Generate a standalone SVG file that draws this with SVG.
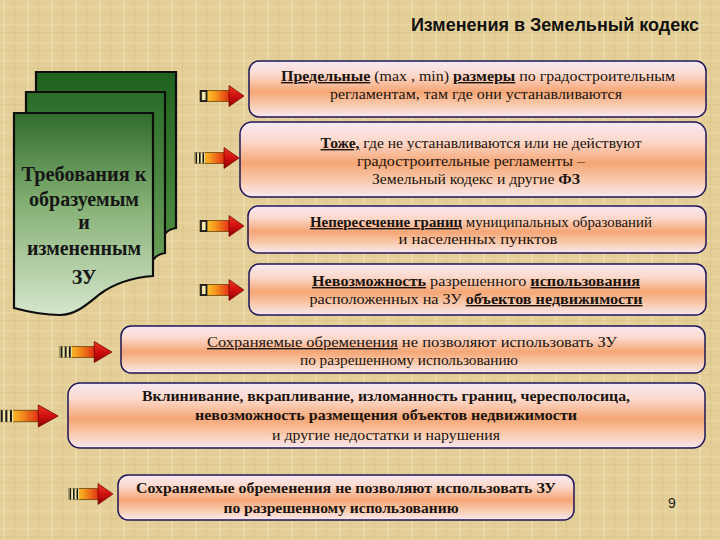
<svg xmlns="http://www.w3.org/2000/svg" width="720" height="540" viewBox="0 0 720 540">
<defs>
<style>
.bx{stroke:#1e1658;stroke-width:1.5;fill:url(#bg)}
.t{font-size:14px;fill:#1a1410;text-anchor:middle}
.b{font-weight:bold}
.u{text-decoration:underline}
.pg{stroke:#0d0d0d;stroke-width:2.2}
.ft{font-size:20px;font-weight:bold;fill:#161616;text-anchor:middle}
</style>
<pattern id="tex" width="24" height="18" patternUnits="userSpaceOnUse">
<rect width="24" height="18" fill="#e3cf97"/>
<rect x="3" y="0" width="2" height="18" fill="#efe0b0" opacity="0.6"/>
<rect x="14" y="0" width="1" height="18" fill="#d4bd80" opacity="0.6"/>
<rect x="0" y="6" width="24" height="1.5" fill="#eddcab" opacity="0.6"/>
<rect x="0" y="14" width="24" height="1" fill="#d6c084" opacity="0.5"/>
</pattern>
<linearGradient id="bg" x1="0" y1="0" x2="0" y2="1">
<stop offset="0" stop-color="#f7e9f2"/>
<stop offset="0.25" stop-color="#fbd9cc"/>
<stop offset="0.55" stop-color="#f5a675"/>
<stop offset="0.8" stop-color="#f9cdb2"/>
<stop offset="1" stop-color="#f8e8f0"/>
</linearGradient>
<linearGradient id="ag" x1="0" y1="0" x2="1" y2="0">
<stop offset="0" stop-color="#f8e040"/>
<stop offset="0.45" stop-color="#f5a020"/>
<stop offset="1" stop-color="#e02410"/>
</linearGradient>
<linearGradient id="ah" x1="0" y1="0" x2="0" y2="1">
<stop offset="0" stop-color="#e83a20"/>
<stop offset="0.5" stop-color="#d01010"/>
<stop offset="1" stop-color="#900000"/>
</linearGradient>
<linearGradient id="g1" x1="0" y1="0" x2="0" y2="1">
<stop offset="0" stop-color="#1f621f"/>
<stop offset="1" stop-color="#4c8a3e"/>
</linearGradient>
<linearGradient id="g2" x1="0" y1="0" x2="0" y2="1">
<stop offset="0" stop-color="#2a6d28"/>
<stop offset="1" stop-color="#6a9e58"/>
</linearGradient>
<linearGradient id="g3" x1="0" y1="0" x2="0" y2="1">
<stop offset="0" stop-color="#2f6c2c"/>
<stop offset="0.45" stop-color="#84b074"/>
<stop offset="1" stop-color="#d6e6cc"/>
</linearGradient>
<g id="arr2">
<rect x="0" y="-5.5" width="31" height="11" fill="url(#ag)" stroke="#5a3a00" stroke-width="0.7"/>
<rect x="1" y="-5" width="5.5" height="10" fill="#f4e6a8" stroke="#1a1a1a" stroke-width="1.8"/>
<polygon points="29,-10.5 44,0 29,10.5" fill="url(#ah)" stroke="#700000" stroke-width="0.7"/>
</g>
<g id="arr3">
<rect x="0" y="-5.5" width="31" height="11" fill="url(#ag)" stroke="#5a3a00" stroke-width="0.7"/>
<rect x="0" y="-5.5" width="10" height="11" fill="#f4e6a8"/>
<rect x="0.5" y="-5.5" width="1.6" height="11" fill="#1a1a1a"/>
<rect x="4" y="-5.5" width="1.6" height="11" fill="#1a1a1a"/>
<rect x="7.5" y="-5.5" width="1.6" height="11" fill="#1a1a1a"/>
<polygon points="29,-10.5 44,0 29,10.5" fill="url(#ah)" stroke="#700000" stroke-width="0.7"/>
</g>
</defs>
<rect width="720" height="540" fill="url(#tex)"/>
<text x="699" y="31" font-family="Liberation Sans, Arial, sans-serif" font-size="18" font-weight="bold" fill="#111" text-anchor="end">Изменения в Земельный кодекс</text>

<g id="doc">
<path class="pg" fill="url(#g1)" d="M36,72 H176 V228 C170,229 167,231 165,234 H36 Z"/>
<path class="pg" fill="url(#g2)" d="M26,92 H165 V253 C159,254 156,256 154,259 H26 Z"/>
<path class="pg" fill="url(#g3)" d="M14,113 H153 V276 C128,278 112,285 100,294 C85,306 75,315 60,315 C40,315 25,311 14,308 Z"/>
<g class="ft" font-family="Liberation Serif, DejaVu Serif, serif">
<text x="84" y="181" textLength="125" lengthAdjust="spacingAndGlyphs">Требования к</text>
<text x="84" y="206" textLength="110" lengthAdjust="spacingAndGlyphs">образуемым</text>
<text x="84" y="229">и</text>
<text x="84" y="255" textLength="114" lengthAdjust="spacingAndGlyphs">измененным</text>
<text x="84" y="284">ЗУ</text>
</g>
</g>

<g id="connectors">
<use href="#arr2" transform="translate(200,96)"/>
<use href="#arr3" transform="translate(195,158)"/>
<use href="#arr2" transform="translate(200,226)"/>
<use href="#arr2" transform="translate(200,290)"/>
<use href="#arr3" transform="translate(60,352) scale(1.18,1)"/>
<use href="#arr3" transform="translate(0,416) scale(1.32,1.05)"/>
<use href="#arr3" transform="translate(69,494)"/>
</g>

<g id="box1" font-family="Liberation Serif, DejaVu Serif, serif">
<rect class="bx" x="249" y="61" width="457" height="56" rx="10"/>
<text class="t" x="478" y="81" textLength="394" lengthAdjust="spacingAndGlyphs"><tspan class="b u">Предельные</tspan> (max , min) <tspan class="b u">размеры</tspan> по градостроительным</text>
<text class="t" x="476" y="99" textLength="292" lengthAdjust="spacingAndGlyphs">регламентам, там где они устанавливаются</text>
</g>
<g id="box2" font-family="Liberation Serif, DejaVu Serif, serif">
<rect class="bx" x="240" y="122" width="466" height="75" rx="12"/>
<text class="t" x="481" y="148" textLength="321" lengthAdjust="spacingAndGlyphs"><tspan class="b u">Тоже,</tspan> где не устанавливаются или не действуют</text>
<text class="t" x="471" y="166" textLength="228" lengthAdjust="spacingAndGlyphs">градостроительные регламенты –</text>
<text class="t" x="476" y="184" textLength="208" lengthAdjust="spacingAndGlyphs">Земельный кодекс и другие <tspan class="b">ФЗ</tspan></text>
</g>
<g id="box3" font-family="Liberation Serif, DejaVu Serif, serif">
<rect class="bx" x="248" y="206" width="458" height="47" rx="10"/>
<text class="t" x="481" y="227" textLength="342" lengthAdjust="spacingAndGlyphs"><tspan class="b u">Непересечение границ</tspan> муниципальных образований</text>
<text class="t" x="478" y="244" textLength="159" lengthAdjust="spacingAndGlyphs">и населенных пунктов</text>
</g>
<g id="box4" font-family="Liberation Serif, DejaVu Serif, serif">
<rect class="bx" x="249" y="264" width="457" height="51" rx="10"/>
<text class="t" x="476" y="286" textLength="328" lengthAdjust="spacingAndGlyphs"><tspan class="b u">Невозможность</tspan> разрешенного <tspan class="b u">использования</tspan></text>
<text class="t" x="476" y="304" textLength="333" lengthAdjust="spacingAndGlyphs">расположенных на ЗУ <tspan class="b u">объектов недвижимости</tspan></text>
</g>
<g id="box5" font-family="Liberation Serif, DejaVu Serif, serif">
<rect class="bx" x="121" y="326" width="584" height="47" rx="10"/>
<text class="t" x="412" y="347" textLength="410" lengthAdjust="spacingAndGlyphs"><tspan class="u">Сохраняемые обременения</tspan> не позволяют использовать ЗУ</text>
<text class="t" x="409" y="365" textLength="218" lengthAdjust="spacingAndGlyphs">по разрешенному использованию</text>
</g>
<g id="box6" font-family="Liberation Serif, DejaVu Serif, serif">
<rect class="bx" x="68" y="383" width="637" height="65" rx="12"/>
<text class="t b" x="386" y="401" textLength="488" lengthAdjust="spacingAndGlyphs">Вклинивание, вкрапливание, изломанность границ, чересполосица,</text>
<text class="t b" x="386" y="420" textLength="382" lengthAdjust="spacingAndGlyphs">невозможность размещения объектов недвижимости</text>
<text class="t" x="386" y="440" textLength="228" lengthAdjust="spacingAndGlyphs">и другие недостатки и нарушения</text>
</g>
<g id="box7" font-family="Liberation Serif, DejaVu Serif, serif">
<rect class="bx" x="118" y="475" width="456" height="45" rx="10"/>
<text class="t b" x="346" y="493" textLength="420" lengthAdjust="spacingAndGlyphs">Сохраняемые обременения не позволяют использовать ЗУ</text>
<text class="t b" x="341" y="513" textLength="235" lengthAdjust="spacingAndGlyphs">по разрешенному использованию</text>
</g>
<text x="672" y="508" font-family="Liberation Sans, Arial, sans-serif" font-size="14" fill="#222" text-anchor="middle">9</text>
</svg>
